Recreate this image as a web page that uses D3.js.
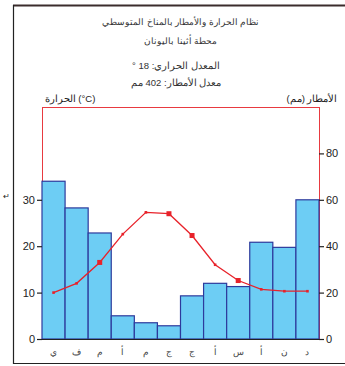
<!DOCTYPE html>
<html><head><meta charset="utf-8">
<script src="https://cdn.jsdelivr.net/npm/d3@7"></script>
<style>body{margin:0;background:#fff}svg{display:block}text{font-family:"Liberation Sans",Arial,sans-serif}</style>
</head><body>
<svg id="c" width="345" height="366"></svg>
<script>
const months = ["ي","ف","م","أ","م","ج","ج","أ","س","أ","ن","د"];
const rain = [68, 56.5, 45.7, 10, 7, 5.7, 18.6, 24, 22.6, 41.7, 39.5, 60];
const temp = [10, 12, 16.5, 22.6, 27.3, 27, 22.3, 16, 12.6, 10.7, 10.3, 10.3];
const bigMarker = [false,false,true,false,false,true,true,false,true,false,false,false];
const tempTicks = [0, 10, 20, 30];
const rainTicks = [0, 20, 40, 60, 80];
const titleLines = ["نظام الحرارة والأمطار بالمناخ المتوسطي", "محطة أثينا باليونان"];
const statLines = ["المعدل الحراري: 18 °", "معدل الأمطار: 402 مم"];

const svg = d3.select("#c");
const L = 42, R = 319, T = 107, B = 339;

// outer frame
svg.append("line").attr("x1",13).attr("x2",345).attr("y1",5.5).attr("y2",5.5).attr("stroke","#3b2c2c").attr("stroke-width",2);
svg.append("line").attr("x1",13.5).attr("x2",13.5).attr("y1",5).attr("y2",364).attr("stroke","#222").attr("stroke-width",1.2);
svg.append("line").attr("x1",13).attr("x2",345).attr("y1",363.5).attr("y2",363.5).attr("stroke","#222").attr("stroke-width",1.2);

const x = d3.scaleBand().domain(d3.range(12)).range([L, R]).padding(0);
const yT = d3.scaleLinear().domain([0, 50]).range([B, T]);
const yR = d3.scaleLinear().domain([0, 100]).range([B, T]);

// red frame
svg.append("rect").attr("x",L+0.5).attr("y",T+0.5).attr("width",R-L).attr("height",B-T)
  .attr("fill","none").attr("stroke","#e83a40").attr("stroke-width",1);

// bars
svg.append("g").selectAll("rect").data(rain).join("rect")
  .attr("x",(d,i)=>x(i)).attr("y",d=>yR(d)).attr("width",x.bandwidth()).attr("height",d=>B-yR(d))
  .attr("fill","#6dcdf4").attr("stroke","#2d3a9c").attr("stroke-width",1.2);

// temperature line
const line = d3.line().x((d,i)=>x(i)+x.bandwidth()/2).y(d=>yT(d));
svg.append("path").datum(temp).attr("d",line).attr("fill","none").attr("stroke","#e8222a").attr("stroke-width",1.3);
svg.append("g").selectAll("rect").data(temp).join("rect")
  .attr("x",(d,i)=>x(i)+x.bandwidth()/2-(bigMarker[i]?2.5:1.3))
  .attr("y",(d,i)=>yT(d)-(bigMarker[i]?2.5:1.3))
  .attr("width",(d,i)=>bigMarker[i]?5:2.6).attr("height",(d,i)=>bigMarker[i]?5:2.6)
  .attr("fill","#e8222a");

// axes
const axL = svg.append("g").attr("transform",`translate(${L},0)`)
  .call(d3.axisLeft(yT).tickValues(tempTicks).tickSize(5).tickPadding(2));
const axR = svg.append("g").attr("transform",`translate(${R},0)`)
  .call(d3.axisRight(yR).tickValues(rainTicks).tickSize(5).tickPadding(2));
[axL, axR].forEach(a=>{
  a.select(".domain").remove();
  a.selectAll("line").attr("stroke","#222").attr("stroke-width",1.2);
  a.selectAll("text").attr("font-size",11).attr("fill","#222");
});
svg.append("line").attr("x1",L-5).attr("x2",R+5).attr("y1",B+0.5).attr("y2",B+0.5).attr("stroke","#222").attr("stroke-width",1.2);

// month labels
svg.append("g").selectAll("text").data(months).join("text")
  .attr("x",(d,i)=>x(i)+x.bandwidth()/2).attr("y",355)
  .attr("text-anchor","middle").attr("font-size",9).attr("fill","#444").text(d=>d);

// titles
svg.append("g").selectAll("text").data(titleLines).join("text")
  .attr("x",181).attr("y",(d,i)=>25+i*19).attr("text-anchor","middle")
  .attr("font-size",9).attr("fill","#333").text(d=>d);
svg.append("g").selectAll("text").data(statLines).join("text")
  .attr("x",176).attr("y",(d,i)=>69+i*17).attr("text-anchor","middle")
  .attr("font-size",9.5).attr("fill","#333").attr("direction","rtl").text(d=>d);

svg.append("text").attr("x",70).attr("y",102).attr("text-anchor","middle").attr("font-size",9.5).attr("fill","#222")
  .text("الحرارة (°C)");
svg.append("text").attr("x",312).attr("y",102).attr("text-anchor","middle").attr("font-size",9.5).attr("fill","#222")
  .text("الأمطار (مم)");
svg.append("text").attr("x",3).attr("y",199).attr("font-size",8).attr("fill","#222").text("↵");
</script>
</body></html>
